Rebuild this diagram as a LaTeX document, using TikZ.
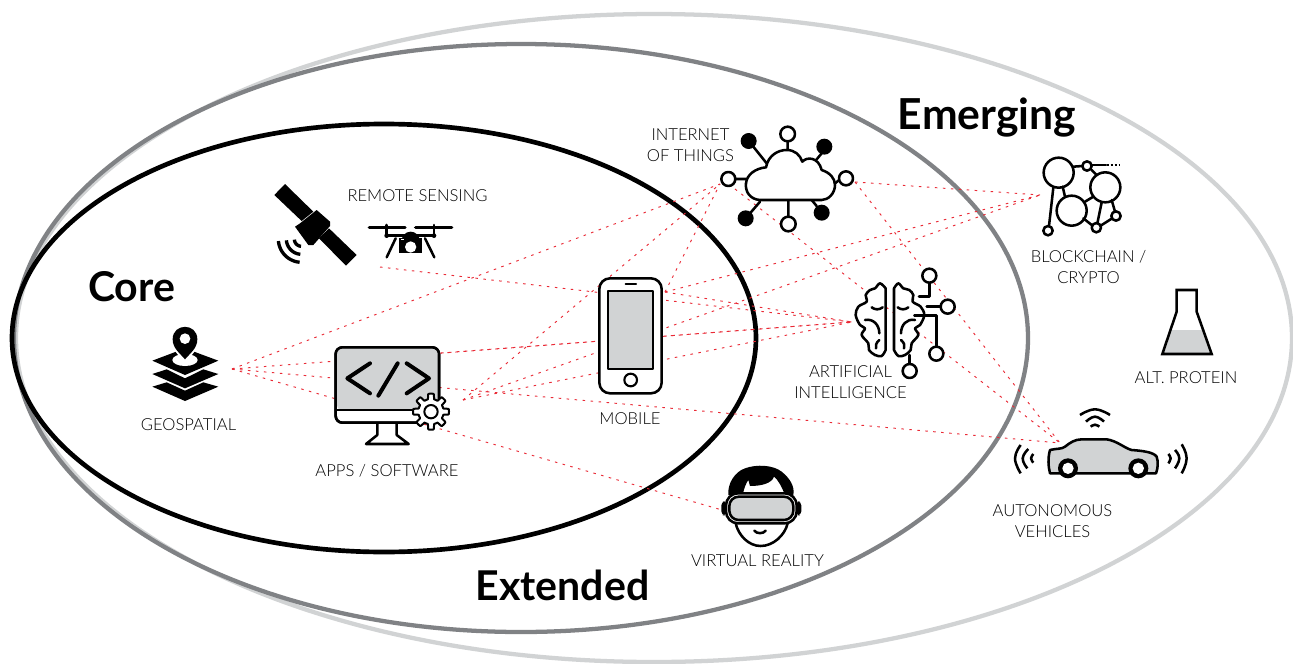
\documentclass[tikz,border=0pt]{standalone}
\usepackage{fontspec}
\setmainfont{Lato}
\newfontfamily\lab[UprightFont=* Light]{Lato}
\newfontfamily\ttl[UprightFont=* Bold]{Lato}
\definecolor{iconfill}{HTML}{D1D3D4}
\definecolor{redl}{HTML}{EA2A36}
\definecolor{labc}{HTML}{000000}
\definecolor{ringg}{HTML}{808285}
\tikzset{
 ringA/.style={draw=black,line width=3.5pt},
 ringB/.style={draw=ringg,line width=3.2pt},
 ringC/.style={draw=iconfill,line width=3.2pt},
 link/.style={draw=redl,line width=0.7pt,dash pattern=on 1.9pt off 4.1pt},
 lbl/.style={font=\lab\fontsize{12.45}{15.75}\selectfont,text=labc,align=center,inner sep=0pt},
 ttlb/.style={font=\ttl\fontsize{32}{36}\selectfont,text=black,inner sep=0pt},
 ttls/.style={font=\ttl\fontsize{30.8}{36}\selectfont,text=black,inner sep=0pt},
 iconz/.style={line width=1.9pt,line cap=round,line join=round,draw=black},
 zoomed/.style={x=0.25pt,y=-0.25pt},
}
\newcommand{\warc}[5]{\draw[iconz,line cap=butt,line width=2.5pt] plot[domain=#4:#5,samples=15] ({#1+#3*cos(\x)},{#2+#3*sin(\x)});}
\begin{document}
\begin{tikzpicture}[x=0.75pt,y=-0.75pt]
\useasboundingbox[fill=white] (0,0) rectangle (1293,664);
% rings
\draw[ringC] (654,338) ellipse [x radius=638,y radius=324];
\draw[ringB] (521,338) ellipse [x radius=507,y radius=294];
\draw[ringA] (384,338) ellipse [x radius=372,y radius=214];
% connector anchors
\coordinate (geoE) at (232,369);
\coordinate (appT) at (441,353);
\coordinate (appH) at (463,400);
\coordinate (rsE) at (380,267);
\coordinate (mobR) at (665,292);
\coordinate (iotL) at (720,184);
\coordinate (iotLb) at (735,189);
\coordinate (iotR) at (855,182);
\coordinate (aiL) at (852,322);
\coordinate (bcL) at (1040,195);
\coordinate (carL) at (1060,443);
\coordinate (vrL) at (722,510);
\draw[link] (geoE) -- (iotL);
\draw[link] (geoE) -- (aiL);
\draw[link] (geoE) -- (carL);
\draw[link] (geoE) -- (vrL);
\draw[link] (appT) -- (aiL);
\draw[link] (appH) -- (iotL);
\draw[link] (appH) -- (aiL);
\draw[link] (appH) -- (bcL);
\draw[link] (rsE) -- (aiL);
\draw[link] (mobR) -- (iotL);
\draw[link] (mobR) -- (aiL);
\draw[link] (mobR) -- (bcL);
\draw[link] (iotR) -- (bcL);
\draw[link] (iotR) -- (carL);
\draw[link] (iotLb) -- (carL);

% satellite
\begin{scope}[shift={(250,170)},zoomed]
\fill (105,42) -- (190,125) -- (155,153) -- (73,75) -- cycle;
\fill (200,120) -- (240,155) -- (240,168) -- (190,225) -- (175,225) -- (135,170) -- (150,160) -- cycle;
\fill (237,175) -- (320,255) -- (288,287) -- (207,205) -- cycle;
\warc{155}{207}{22}{95}{175}
\warc{155}{207}{46}{95}{175}
\warc{155}{207}{70}{95}{175}
% drone
\draw[iconz,line width=2.6pt] (358,172) -- (465,172) (497,172) -- (605,172);
\draw[iconz] (410,165) -- (410,197) (552,165) -- (552,197);
\draw[iconz] (410,197) -- (552,197);
\fill (410,197) circle[radius=7] (552,197) circle[radius=7];
\draw[iconz] (437,205) -- (410,262) (525,205) -- (553,262);
\fill (482,212) circle[radius=27];
\fill (447,203) rectangle (517,250);
\fill[white] (482,231) circle[radius=17];
\fill[white] (452,207) rectangle (462,211);
\end{scope}

% geospatial
\begin{scope}[shift={(130,320)},zoomed]
\fill (67,122) -- (165,85) -- (265,122) -- (165,165) -- cycle;
\fill[white] (165,120) ellipse[x radius=38,y radius=18];
\fill (67,162) -- (110,148) -- (165,175) -- (220,148) -- (265,162) -- (165,205) -- cycle;
\fill (67,200) -- (110,187) -- (165,212) -- (220,187) -- (265,200) -- (165,243) -- cycle;
\fill[white] (125,60) .. controls (125,90) and (150,110) .. (165,128) .. controls (180,110) and (205,90) .. (205,60) .. controls (205,5) and (125,5) .. (125,60) -- cycle;
\fill (128,58) .. controls (128,85) and (150,100) .. (165,118) .. controls (180,100) and (202,85) .. (202,58) .. controls (202,8) and (128,8) .. (128,58) -- cycle;
\fill[white] (165,56) circle[radius=16];
\end{scope}

% computer
\begin{scope}[shift={(130,320)},zoomed]
\draw[iconz,fill=white] (742,305) -- (742,345) -- (708,372) -- (836,372) -- (800,345) -- (800,305);
\draw[iconz,fill=white,rounded corners=5pt] (617,82) rectangle (927,308);
\fill[iconfill,rounded corners=4pt] (620,85) -- (924,85) -- (924,270) -- (620,270) -- cycle;
\draw[iconz,rounded corners=5pt] (617,82) rectangle (927,308);
\draw[iconz] (617,270) -- (927,270);
\draw[iconz,line width=3pt] (720,130) -- (652,175) -- (720,220);
\draw[iconz,line width=3pt] (803,130) -- (745,227);
\draw[iconz,line width=3pt] (830,130) -- (897,175) -- (830,220);
\draw[iconz,fill=white,line cap=butt,line width=1.5pt] plot[domain=0:360,samples=193] ({903+(46+8*max(-1,min(1,3*cos(8*\x))))*cos(\x)},{275+(46+8*max(-1,min(1,3*cos(8*\x))))*sin(\x)}) -- cycle;
\draw[iconz,fill=white,line width=1.5pt] (903,275) circle[radius=20];
\end{scope}

% mobile
\begin{scope}[shift={(590,270)},zoomed]
\draw[iconz,fill=white,rounded corners=8pt] (28,25) rectangle (215,370);
\draw[iconz,fill=iconfill,line cap=butt,line width=1.6pt] (55,63) rectangle (190,297);
\draw[iconz,line width=1.6pt] (107,43) -- (138,43);
\draw[iconz,line width=1.6pt] (122,330) circle[radius=19];
\end{scope}

% internet of things
\begin{scope}[shift={(640,120)},zoomed]
\draw[iconz] (443,60) -- (443,90) (285,177) -- (318,177) (600,178) -- (585,190)
 (445,240) -- (445,295) (340,80) -- (380,130) (545,100) -- (530,118)
 (360,245) -- (330,280) (515,240) -- (530,258);
\draw[iconz,fill=white] (360,240) .. controls (330,238) and (315,215) .. (318,190)
 .. controls (320,165) and (345,145) .. (378,142)
 .. controls (385,105) and (415,90) .. (440,90)
 .. controls (465,90) and (480,105) .. (487,125)
 .. controls (500,110) and (535,110) .. (545,150)
 .. controls (570,158) and (585,175) .. (585,195)
 .. controls (585,220) and (565,240) .. (545,240) -- cycle;
\draw[iconz,fill=white] (443,42) circle[radius=22] (265,177) circle[radius=21] (618,175) circle[radius=21] (445,312) circle[radius=22];
\fill (326,63) circle[radius=24] (553,80) circle[radius=24] (317,295) circle[radius=24] (545,278) circle[radius=24];
\end{scope}

% brain
\begin{scope}[shift={(820,260)},zoomed]
\draw[iconz,fill=white] plot[smooth,tension=.55] coordinates {(197,270)(185,288)(165,285)(147,270)(145,250)(125,225)(135,205)(120,195)(107,165)(115,140)(140,125)(137,105)(150,90)(165,85)(180,70)(197,85)} -- cycle;
\draw[iconz,fill=white] plot[smooth,tension=.55] coordinates {(222,270)(235,288)(255,285)(272,270)(275,250)(295,225)(285,205)(300,195)(313,165)(302,140)(278,125)(280,105)(268,90)(250,85)(235,70)(222,85)} -- cycle;
\draw[iconz] (155,142) .. controls (165,150) and (178,150) .. (188,142);
\draw[iconz] (233,142) .. controls (243,150) and (255,150) .. (265,142);
\draw[iconz] (135,180) .. controls (160,175) and (178,195) .. (178,220);
\draw[iconz] (285,180) .. controls (260,175) and (243,195) .. (243,220);
\draw[iconz] (178,240) .. controls (168,248) and (166,258) .. (168,265);
\draw[iconz] (243,240) .. controls (253,248) and (255,258) .. (252,265);
\draw[iconz] (328,68) -- (328,110) -- (297,110);
\draw[iconz] (320,140) -- (362,140);
\draw[iconz] (283,167) -- (349,167) -- (349,260);
\draw[iconz] (269,285) -- (269,312);
\draw[iconz,fill=white] (328,47) circle[radius=21] (383,140) circle[radius=21] (349,281) circle[radius=21] (269,333) circle[radius=21];
\end{scope}

% blockchain and flask
\begin{scope}[shift={(1010,140)},zoomed]
\draw[iconz] (190,80) -- (217,78) (245,90) -- (260,105) (130,143) -- (117,258) (158,140) -- (165,170)
 (225,185) -- (250,170) (220,235) -- (245,255) (275,187) -- (262,250) (305,180) -- (315,215) (272,257) -- (305,236);
\draw[iconz] (245,75) -- (288,75);
\draw[iconz,line cap=butt,dash pattern=on 1.5pt off 1.5pt] (290,75) -- (330,75);
\draw[iconz] (146,98) circle[radius=45] (286,142) circle[radius=45] (185,212) circle[radius=45]
 (231,78) circle[radius=14] (114,272) circle[radius=14] (259,263) circle[radius=14] (318,228) circle[radius=14];
\fill[iconfill] (483,570) -- (578,570) -- (605,642) -- (457,642) -- cycle;
\draw[iconz,line join=miter] (500,450) -- (500,515) -- (457,642) -- (605,642) -- (560,515) -- (560,450) -- cycle;
\end{scope}

% car
\begin{scope}[shift={(1000,400)},zoomed]
\draw[iconz,fill=iconfill] (150,220) .. controls (145,200) and (143,175) .. (150,150)
 .. controls (170,145) and (185,148) .. (195,140)
 .. controls (210,128) and (225,118) .. (245,118)
 -- (320,118) .. controls (350,122) and (375,145) .. (395,150)
 .. controls (420,152) and (460,155) .. (470,170)
 .. controls (475,185) and (474,205) .. (468,220) -- cycle;
\fill (204,205) circle[radius=30] (415,205) circle[radius=30];
\fill[white] (204,205) circle[radius=17] (415,205) circle[radius=17];
\foreach \a/\b/\c/\d/\e/\f in {240/45/285/28/330/45,258/65/285/50/312/65,272/80/285/74/298/80,62/220/45/175/62/135,82/205/68/175/85/147,100/188/93/175/100/162,545/220/560/175/545/133,525/205/538/175/525/150,505/190/512/175/505/162}
 {\draw[iconz,line cap=butt] plot[smooth,tension=.8] coordinates {(\a,\b)(\c,\d)(\e,\f)};}
\end{scope}

% vr
\begin{scope}[shift={(700,460)},zoomed]
\fill (85,105) .. controls (82,70) and (105,35) .. (135,25) .. controls (170,12) and (220,15) .. (245,35) .. controls (270,55) and (285,80) .. (280,105) -- (255,105) .. controls (245,80) and (235,60) .. (222,50) .. controls (215,70) and (185,78) .. (150,78) -- (145,60) .. controls (138,70) and (132,85) .. (128,105) -- cycle;
\fill[rounded corners=3pt] (64,124) rectangle (80,166);
\fill[rounded corners=3pt] (288,124) rectangle (304,166);
\draw[iconz,fill=white,rounded corners=9pt] (78,100) rectangle (290,190);
\draw[iconz,fill=iconfill,rounded corners=7pt] (88,110) rectangle (280,180);
\draw[iconz] (107,190) .. controls (115,225) and (145,258) .. (182,258) .. controls (220,258) and (255,225) .. (263,190);
\draw[iconz] (163,212) .. controls (170,222) and (190,222) .. (197,212);
\end{scope}

% labels
\node[lbl] (rs) at (417.5,195.5) {REMOTE SENSING};
\node[lbl] (iot) at (690.5,145.5) {INTERNET\\OF THINGS};
\node[lbl] (geo) at (188.5,424.5) {GEOSPATIAL};
\node[lbl] (app) at (387,470.5) {APPS / SOFTWARE};
\node[lbl] (mob) at (630,418.5) {MOBILE};
\node[lbl] (ai) at (850.5,382) {ARTIFICIAL\\INTELLIGENCE};
\node[lbl] (bc) at (1088.5,267.5) {BLOCKCHAIN /\\CRYPTO};
\node[lbl] (alt) at (1186,377.5) {ALT. PROTEIN};
\node[lbl] (av) at (1052.5,521) {AUTONOMOUS\\VEHICLES};
\node[lbl] (vr) at (757.5,560.5) {VIRTUAL REALITY};
\node[ttls] (core) at (131.5,287) {Core};
\node[ttlb] (em) at (987,117.5) {Emerging};
\node[ttls] (ext) at (562.5,585) {Extended};
\end{tikzpicture}
\end{document}
